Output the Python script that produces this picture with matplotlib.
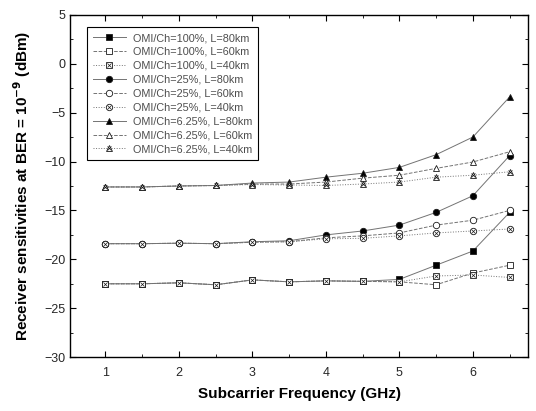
import matplotlib
matplotlib.use("Agg")
import matplotlib.pyplot as plt
from matplotlib.ticker import MultipleLocator

plt.rcParams['font.family'] = ['Liberation Sans', 'DejaVu Sans']

freq = [1, 1.5, 2, 2.5, 3, 3.5, 4, 4.5, 5, 5.5, 6, 6.5]

omi100_80 = [-22.5, -22.5, -22.4, -22.6, -22.1, -22.3, -22.2, -22.25, -22.05, -20.6, -19.15, -15.2]
omi100_60 = [-22.5, -22.5, -22.4, -22.6, -22.1, -22.3, -22.2, -22.25, -22.3, -22.6, -21.4, -20.6]
omi100_40 = [-22.5, -22.5, -22.4, -22.6, -22.1, -22.3, -22.2, -22.25, -22.3, -21.7, -21.6, -21.85]

omi25_80 = [-18.4, -18.4, -18.35, -18.4, -18.2, -18.1, -17.5, -17.1, -16.5, -15.2, -13.5, -9.4]
omi25_60 = [-18.4, -18.4, -18.35, -18.4, -18.25, -18.2, -17.8, -17.6, -17.3, -16.5, -16.0, -15.0]
omi25_40 = [-18.4, -18.4, -18.35, -18.4, -18.25, -18.2, -17.9, -17.85, -17.6, -17.3, -17.1, -16.9]

omi6_80 = [-12.6, -12.6, -12.5, -12.45, -12.2, -12.1, -11.6, -11.2, -10.6, -9.3, -7.5, -3.4]
omi6_60 = [-12.6, -12.6, -12.5, -12.45, -12.3, -12.3, -12.1, -11.7, -11.4, -10.7, -10.05, -9.0]
omi6_40 = [-12.6, -12.6, -12.5, -12.45, -12.35, -12.4, -12.45, -12.3, -12.1, -11.6, -11.4, -11.05]

labels = ["OMI/Ch=100%, L=80km", "OMI/Ch=100%, L=60km", "OMI/Ch=100%, L=40km",
          "OMI/Ch=25%, L=80km", "OMI/Ch=25%, L=60km", "OMI/Ch=25%, L=40km",
          "OMI/Ch=6.25%, L=80km", "OMI/Ch=6.25%, L=60km", "OMI/Ch=6.25%, L=40km"]

series = [omi100_80, omi100_60, omi100_40, omi25_80, omi25_60, omi25_40,
          omi6_80, omi6_60, omi6_40]
markers = ['s', 's', 's', 'o', 'o', 'o', '^', '^', '^']
styles = ['-', '--', ':', '-', '--', ':', '-', '--', ':']
kinds = ['filled', 'open', 'cross'] * 3

fig = plt.figure(figsize=(5.36, 4.11), dpi=100)
ax = fig.add_axes([0.131, 0.131, 0.854, 0.833])

handles = []
for y, m, ls, k in zip(series, markers, styles, kinds):
    fc = 'black' if k == 'filled' else 'white'
    ln, = ax.plot(freq, y, linestyle=ls, color='0.45', linewidth=0.7,
                  marker=m, markersize=4.6, markerfacecolor=fc,
                  markeredgecolor='0.1', markeredgewidth=0.6, zorder=3)
    if k == 'cross':
        xm, = ax.plot(freq, y, linestyle='none', marker='x', markersize=3.2,
                      color='0.1', markeredgewidth=0.5, zorder=4)
        handles.append((ln, xm))
    else:
        handles.append(ln)

ax.set_xlim(0.52, 6.75)
ax.set_ylim(-30, 5)
ax.xaxis.set_major_locator(MultipleLocator(1))
ax.xaxis.set_minor_locator(MultipleLocator(0.5))
ax.yaxis.set_major_locator(MultipleLocator(5))
ax.yaxis.set_minor_locator(MultipleLocator(2.5))
ax.tick_params(which='both', direction='in', top=True, right=True,
               labelsize=9, colors='black', labelcolor='0.15')
ax.tick_params(axis='x', which='major', pad=7)
ax.tick_params(which='major', length=4, width=0.8)
ax.tick_params(which='minor', length=2.5, width=0.6)
for s in ax.spines.values():
    s.set_linewidth(1.0)

ax.set_xlabel("Subcarrier Frequency (GHz)", fontsize=11, fontweight='bold', labelpad=6)
ax.set_ylabel("Receiver sensitivities at BER = 10$^{\\mathbf{-9}}$ (dBm)",
              fontsize=11, fontweight='bold', labelpad=8)

leg = ax.legend(handles, labels, loc='upper left', bbox_to_anchor=(0.025, 0.98),
                fontsize=7.8, labelspacing=0.36, handlelength=3.0, handletextpad=0.7,
                borderpad=0.55, fancybox=False, framealpha=1, edgecolor='black')
leg.get_frame().set_linewidth(0.8)
for t in leg.get_texts():
    t.set_color('0.3')

fig.savefig("out.png", dpi=100)
